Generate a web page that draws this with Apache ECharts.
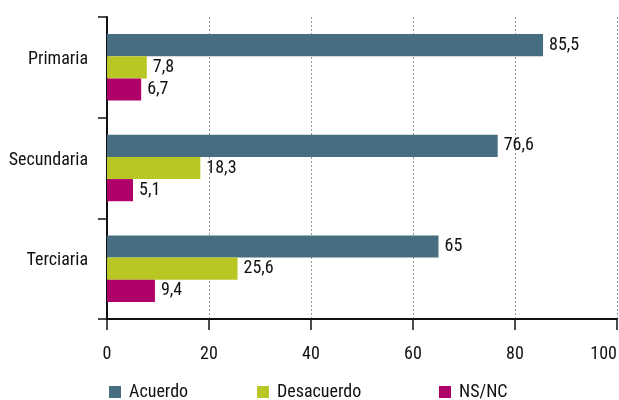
<!DOCTYPE html>
<html><head><meta charset="utf-8">
<script src="https://cdn.jsdelivr.net/npm/echarts@6/dist/echarts.min.js"></script>
<style>html,body{margin:0;padding:0;background:#fff}#c{width:619px;height:400px}</style>
</head><body><div id="c"></div>
<script>
const categories = ['Primaria', 'Secundaria', 'Terciaria'];
const acuerdo = [85.5, 76.6, 65];
const desacuerdo = [7.8, 18.3, 25.6];
const nsnc = [6.7, 5.1, 9.4];
const xTicks = [0, 20, 40, 60, 80, 100];
const names = ['Acuerdo', 'Desacuerdo', 'NS/NC'];
const colors = ['#466e80', '#b8c724', '#b0006a'];

const FONT = '"Roboto Condensed", "Liberation Sans", sans-serif';
const chart = echarts.init(document.getElementById('c'));
const fmt = p => String(p.value).replace('.', ',');
function mk(name, data, color) {
  return {
    name, type: 'bar', data, barGap: '0%', barCategoryGap: '34%',
    itemStyle: { color },
    label: { show: true, position: 'right', distance: 6, formatter: fmt,
      color: '#111', fontFamily: FONT, fontSize: 18 }
  };
}
chart.setOption({
  animation: false,
  textStyle: { fontFamily: FONT },
  grid: { left: 107, right: 2, top: 17, bottom: 81, containLabel: false, outerBoundsMode: 'none' },
  legend: [
    { data: [names[0]], left: 104, top: 378 },
    { data: [names[1]], left: 252, top: 378 },
    { data: [names[2]], left: 434, top: 378 }
  ].map(l => Object.assign(l, { icon: 'rect', itemWidth: 12, itemHeight: 12, itemGap: 8,
      textStyle: { fontFamily: FONT, fontSize: 18, color: '#111', padding: [0,0,0,3] } })),
  xAxis: {
    type: 'value', min: xTicks[0], max: xTicks[xTicks.length - 1], interval: 20,
    axisLine: { show: true, lineStyle: { color: '#111', width: 2 } },
    axisTick: { show: true, length: 11, lineStyle: { color: '#111', width: 1.5 } },
    axisLabel: { margin: 26, fontFamily: FONT, fontSize: 18, color: '#111', alignMaxLabel: 'right' },
    splitLine: { show: true, lineStyle: { color: '#999', type: [2, 2], width: 1 } }
  },
  yAxis: {
    type: 'category', data: categories, inverse: true,
    axisLine: { show: true, lineStyle: { color: '#111', width: 2 } },
    axisTick: { show: true, length: 9, lineStyle: { color: '#111', width: 1.5 } },
    axisLabel: { margin: 19, fontFamily: FONT, fontSize: 18, color: '#111',
      verticalAlign: 'bottom', lineHeight: 16 },
    splitLine: { show: false }
  },
  series: [
    mk(names[0], acuerdo, colors[0]),
    mk(names[1], desacuerdo, colors[1]),
    mk(names[2], nsnc, colors[2])
  ]
});
</script></body></html>
